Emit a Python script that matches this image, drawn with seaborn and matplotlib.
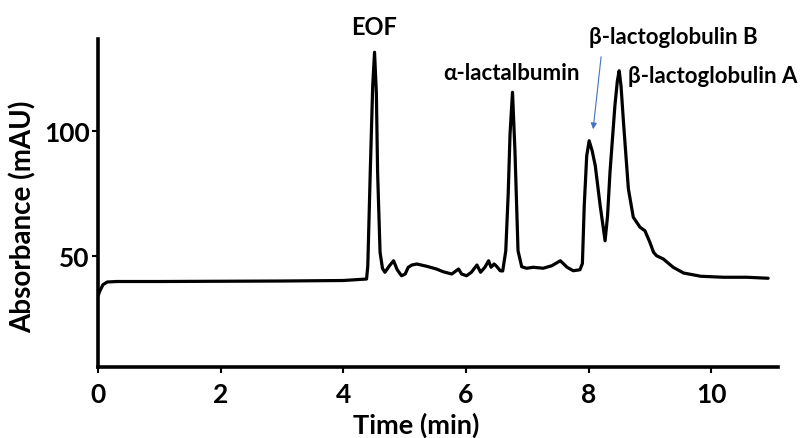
import matplotlib
matplotlib.use('Agg')
import matplotlib.pyplot as plt
import seaborn as sns

# electropherogram trace
time_min = [0.00, 0.03, 0.08, 0.15, 0.30, 1.0, 2.0, 3.0, 4.0, 4.38, 4.40, 4.44, 4.48,
            4.51, 4.54, 4.56, 4.60, 4.64, 4.68, 4.75, 4.82, 4.88, 4.95, 5.01, 5.06,
            5.12, 5.20, 5.36, 5.52, 5.63, 5.77, 5.88, 5.93, 6.01, 6.09, 6.18, 6.24,
            6.31, 6.37, 6.41, 6.46, 6.50, 6.56, 6.60, 6.65, 6.69, 6.72, 6.76, 6.80,
            6.85, 6.91, 6.99, 7.10, 7.26, 7.40, 7.54, 7.65, 7.75, 7.86, 7.90, 7.93,
            7.97, 8.01, 8.06, 8.11, 8.19, 8.27, 8.31, 8.35, 8.43, 8.47, 8.50, 8.53,
            8.57, 8.65, 8.73, 8.84, 8.92, 9.00, 9.06, 9.11, 9.22, 9.38, 9.55, 9.83,
            10.2, 10.58, 10.93]
absorbance = [34.0, 36.0, 38.5, 39.6, 39.8, 39.8, 39.9, 40.0, 40.2, 40.8, 46.0, 83.5, 118.0,
              131.5, 115.0, 83.5, 51.5, 45.0, 43.5, 46.0, 48.1, 44.5, 42.1, 42.8, 45.5,
              46.4, 46.8, 45.9, 44.8, 43.7, 42.8, 44.8, 42.8, 42.1, 43.5, 46.4, 43.5,
              45.5, 48.1, 45.5, 46.8, 45.9, 44.1, 44.0, 52.0, 75.0, 98.8, 115.5, 92.1,
              52.1, 45.7, 45.1, 45.5, 45.1, 46.1, 48.1, 45.5, 44.1, 44.5, 47.0, 70.1,
              90.0, 96.1, 92.0, 86.1, 70.1, 56.1, 66.0, 83.5, 110.1, 120.0, 124.1, 118.0,
              103.5, 76.8, 65.5, 61.5, 60.1, 55.5, 51.5, 50.1, 48.8, 45.5, 43.2, 41.9,
              41.5, 41.5, 41.1]

x_ticks = [0, 2, 4, 6, 8, 10]
y_ticks = [50, 100]

sns.set_style('ticks')
plt.rcParams['font.family'] = ['Lato', 'DejaVu Sans']
plt.rcParams['font.weight'] = 'bold'
plt.rcParams['text.color'] = 'black'
plt.rcParams['axes.labelcolor'] = 'black'
plt.rcParams['xtick.color'] = 'black'
plt.rcParams['ytick.color'] = 'black'

fig, ax = plt.subplots(figsize=(8, 4.39), dpi=100)
fig.subplots_adjust(left=0.1225, right=0.9725, bottom=0.1617, top=0.9089)

sns.lineplot(x=time_min, y=absorbance, color='black', lw=2.3, ax=ax)
ax.lines[0].set_solid_joinstyle('round')

ax.set_xlim(0, 11.09)
ax.set_ylim(5.6, 136.8)
ax.set_xticks(x_ticks)
ax.set_yticks(y_ticks)
ax.tick_params(axis='both', labelsize=19, width=1.5, length=4)
ax.tick_params(axis='x', pad=7)
ax.tick_params(axis='y', pad=2)
for lbl in ax.get_xticklabels() + ax.get_yticklabels():
    lbl.set_fontweight('bold')
for s in ['top', 'right']:
    ax.spines[s].set_visible(False)
for s in ['left', 'bottom']:
    ax.spines[s].set_linewidth(2.6)
    ax.spines[s].set_color('black')

ax.set_xlabel('Time (min)', fontsize=19.5, fontweight='bold')
ax.xaxis.set_label_coords(0.468, -0.137)
ax.set_ylabel('Absorbance (mAU)', fontsize=20, fontweight='bold')
ax.yaxis.set_label_coords(-0.09, 0.46)

# peak labels
ax.text(4.50, 141.6, 'EOF', fontsize=17, fontweight='bold', ha='center', va='center')
ax.text(6.74, 123.2, 'α-lactalbumin', fontsize=16, fontweight='bold', ha='center', va='center')
ax.text(9.38, 137.6, 'β-lactoglobulin B', fontsize=16, fontweight='bold', ha='center', va='center')
ax.text(8.65, 122.0, 'β-lactoglobulin A', fontsize=16, fontweight='bold', ha='left', va='center')
ax.annotate('', xy=(8.07, 99.6), xytext=(8.21, 130.8),
            arrowprops=dict(arrowstyle='-|>', color='#4472C4', lw=0.8, mutation_scale=9))

fig.savefig('out.png', dpi=100)
